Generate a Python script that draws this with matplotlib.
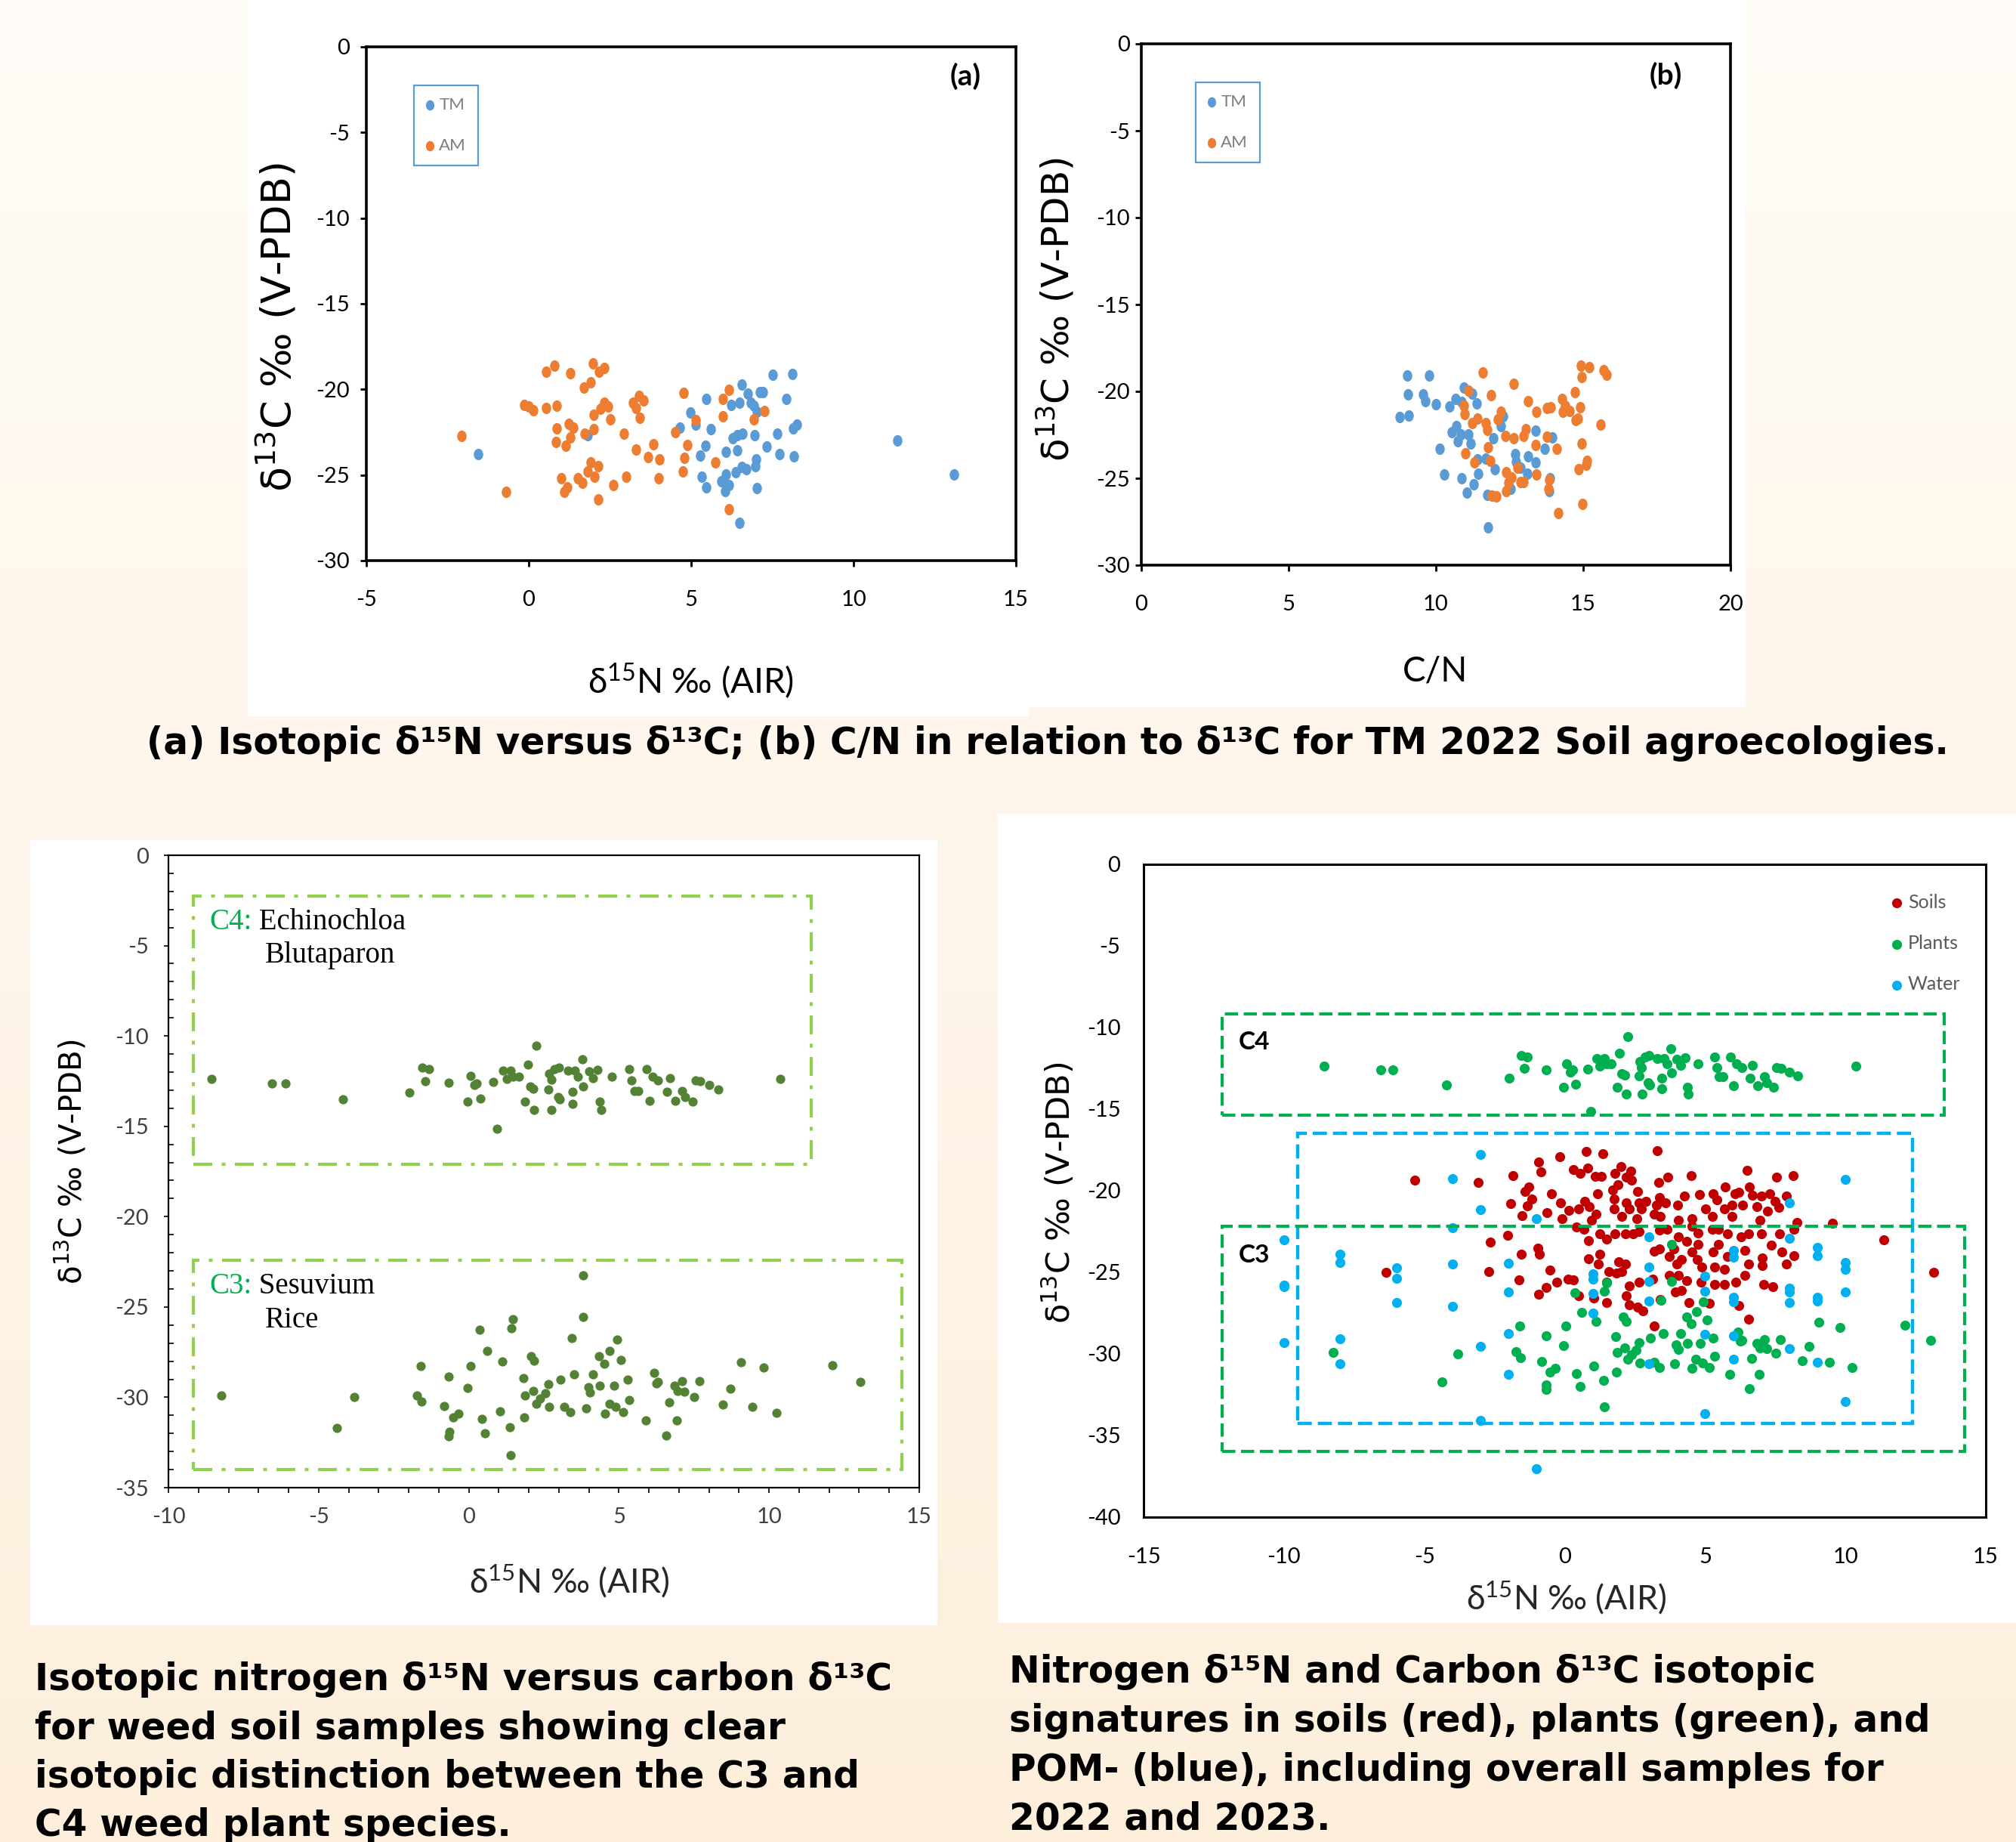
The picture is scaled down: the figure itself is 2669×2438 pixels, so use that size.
import numpy as np
import matplotlib
matplotlib.use("Agg")
import matplotlib.pyplot as plt
from matplotlib.patches import Rectangle
from matplotlib.path import Path
from matplotlib.ticker import MultipleLocator
from matplotlib.colors import LinearSegmentedColormap

# ---- (a) d15N vs d13C, TM / AM soils ----
tm_n = [-1.55, 1.82, 4.65, 4.98, 5.15, 5.27, 5.32, 5.44, 5.46, 5.47, 5.61, 5.94, 6.05, 6.07, 6.08, 6.17,
        6.24, 6.28, 6.38, 6.41, 6.42, 6.49, 6.49, 6.55, 6.55, 6.58, 6.70, 6.75, 6.84, 6.92, 6.95, 6.97,
        7.0, 7.03, 7.02, 7.11, 7.22, 7.33, 7.51, 7.64, 7.72, 7.92, 8.12, 8.15, 8.17, 8.26, 11.36, 13.10]
tm_c = [-23.8, -22.66, -22.25, -21.36, -22.06, -23.87, -25.09, -23.28, -25.7, -20.55, -22.33, -25.36,
        -25.95, -23.66, -24.95, -25.57, -20.9, -22.87, -24.82, -22.66, -23.55, -20.77, -27.79, -19.74,
        -24.55, -22.58, -24.68, -20.23, -20.77, -20.96, -22.66, -24.5, -24.1, -25.76, -21.3, -20.17,
        -20.17, -23.33, -19.15, -22.58, -23.79, -20.55, -19.09, -22.3, -23.9, -22.04, -22.98, -24.95]
am_n = [-2.06, -0.70, -0.13, 0.0, 0.15, 0.53, 0.54, 0.79, 0.85, 0.87, 0.84, 1.01, 1.09, 1.19, 1.15, 1.24,
        1.29, 1.37, 1.29, 1.51, 1.66, 1.69, 1.72, 1.82, 1.90, 1.91, 1.97, 2.0, 2.0, 2.02, 2.13, 2.13,
        2.17, 2.21, 2.32, 2.33, 2.44, 2.50, 2.60, 2.92, 3.0, 3.22, 3.31, 3.30, 3.40, 3.43, 3.54, 3.68,
        3.84, 4.01, 4.03, 4.51, 4.74, 4.77, 4.80, 4.88, 5.15, 5.75, 5.97, 5.97, 6.16, 6.16, 6.94, 7.25]
am_c = [-22.7, -25.98, -20.93, -21.0, -21.2, -21.1, -18.96, -18.6, -20.96, -22.3, -23.06, -25.17,
        -25.98, -25.7, -23.3, -22.0, -19.04, -22.25, -22.8, -25.17, -25.44, -19.9, -22.58, -24.8,
        -19.58, -24.28, -18.5, -21.47, -22.33, -25.1, -24.5, -26.44, -18.98, -21.15, -20.77, -18.77,
        -20.98, -21.77, -25.6, -22.58, -25.1, -20.8, -23.5, -21.1, -20.4, -21.66, -20.65, -23.95,
        -23.2, -25.2, -24.1, -22.5, -24.8, -20.2, -24.0, -23.25, -21.8, -24.28, -20.55, -21.58,
        -20.04, -26.98, -21.77, -21.25]

# ---- (b) C/N vs d13C ----
tm_cn = [8.78, 9.03, 9.04, 9.07, 9.56, 9.65, 9.76, 10.0, 10.14, 10.27, 10.46, 10.55, 10.66, 10.69,
         10.74, 10.85, 10.86, 10.88, 10.94, 11.05, 11.1, 11.19, 11.22, 11.27, 11.38, 11.4, 11.43,
         11.68, 11.74, 11.76, 11.96, 11.99, 12.21, 12.28, 12.54, 12.68, 12.73, 12.87, 13.11, 13.14,
         13.39, 13.39, 13.69, 13.85, 13.88, 13.96]
tm_cn_c = [-21.48, -19.08, -20.18, -21.37, -20.18, -20.58, -19.08, -20.76, -23.29, -24.8, -20.87,
           -22.36, -20.42, -22.0, -22.89, -22.49, -25.02, -20.63, -19.78, -25.84, -22.49, -23.02,
           -20.15, -25.34, -20.68, -23.9, -24.75, -23.88, -25.95, -27.81, -22.7, -24.49, -22.0,
           -21.43, -25.6, -23.6, -24.04, -24.4, -24.75, -23.74, -22.28, -24.09, -23.29, -25.74,
           -25.02, -22.65]
am_cn = [11.0, 10.97, 10.96, 11.1, 11.24, 11.32, 11.41, 11.59, 11.68, 11.74, 11.76, 11.84, 11.88,
         11.91, 12.06, 12.1, 12.2, 12.35, 12.38, 12.38, 12.46, 12.56, 12.64, 12.65, 12.78, 12.87,
         12.97, 12.97, 13.06, 13.12, 13.39, 13.41, 13.42, 13.78, 13.78, 13.81, 13.85, 13.91, 14.1,
         14.15, 14.27, 14.32, 14.38, 14.54, 14.71, 14.74, 14.83, 14.85, 14.9, 14.93, 14.95, 14.95,
         14.98, 15.09, 15.12, 15.2, 15.59, 15.68, 15.79]
am_cn_c = [-23.55, -21.29, -20.82, -19.96, -21.82, -24.09, -21.56, -18.93, -21.82, -22.22, -23.21,
           -24.0, -20.2, -26.0, -26.06, -21.61, -21.16, -22.55, -24.67, -25.74, -25.28, -24.94,
           -19.56, -22.68, -24.4, -25.2, -25.23, -22.57, -22.17, -20.58, -23.08, -21.16, -24.8,
           -22.6, -20.95, -25.63, -25.1, -20.9, -23.29, -27.0, -20.44, -21.16, -20.84, -21.11,
           -20.04, -21.64, -21.56, -24.49, -20.9, -18.5, -19.16, -23.02, -26.48, -24.22, -24.0,
           -18.63, -21.9, -18.77, -19.03]

# ---- (c) weed plants, C4 and C3 groups ----
c4_n = [-8.56, -6.55, -6.11, -4.2, -1.97, -1.55, -1.33, -1.44, -0.67, -0.03, 0.07, 0.19, 0.27, 0.39,
        0.81, 0.93, 1.14, 1.26, 1.4, 1.48, 1.66, 1.86, 1.96, 2.04, 2.14, 2.18, 2.26, 2.64, 2.68, 2.74,
        2.76, 2.86, 2.98, 3.0, 3.02, 3.3, 3.46, 3.46, 3.54, 3.64, 3.78, 3.8, 4.0, 4.14, 4.28, 4.36,
        4.4, 4.76, 5.33, 5.41, 5.51, 5.65, 5.91, 6.01, 6.11, 6.31, 6.61, 6.69, 6.87, 7.11, 7.21,
        7.45, 7.56, 7.7, 8.0, 8.3, 10.37]
c4_c = [-12.36, -12.61, -12.61, -13.51, -13.12, -11.73, -11.82, -12.52, -12.58, -13.65, -12.21,
        -12.72, -12.61, -13.46, -12.55, -15.13, -11.9, -12.38, -11.9, -12.24, -12.24, -13.65, -11.59,
        -12.81, -12.92, -14.08, -10.55, -12.95, -12.1, -12.44, -14.08, -11.82, -13.37, -11.73,
        -13.51, -11.9, -13.09, -13.74, -11.9, -12.24, -11.3, -12.78, -11.96, -12.33, -11.87, -13.65,
        -14.08, -12.24, -11.82, -12.47, -13.03, -13.03, -11.82, -13.57, -12.24, -12.47, -13.09,
        -12.33, -13.57, -13.03, -13.37, -13.65, -12.47, -12.52, -12.72, -12.95, -12.36]
c3_n = [-8.25, -4.38, -3.82, -1.73, -1.61, -1.57, -0.83, -0.67, -0.65, -0.67, -0.53, -0.33, -0.03,
        0.05, 0.37, 0.43, 0.55, 0.61, 1.04, 1.12, 1.38, 1.4, 1.42, 1.48, 1.82, 1.84, 1.88, 2.08, 2.14,
        2.18, 2.24, 2.38, 2.54, 2.64, 2.68, 3.06, 3.18, 3.38, 3.44, 3.5, 3.8, 3.82, 3.92, 3.98, 4.04,
        4.14, 4.34, 4.36, 4.52, 4.54, 4.7, 4.68, 4.84, 4.9, 4.94, 5.06, 5.14, 5.3, 5.33, 5.89, 6.17,
        6.25, 6.31, 6.57, 6.67, 6.85, 6.93, 6.95, 7.11, 7.19, 7.51, 7.68, 8.46, 8.7, 9.06, 9.44,
        9.82, 10.24, 12.11, 13.03]
c3_c = [-29.91, -31.69, -30.0, -29.88, -28.27, -30.25, -30.48, -28.87, -31.89, -32.17, -31.1, -30.9,
        -29.49, -28.27, -26.27, -31.19, -31.97, -27.45, -30.76, -28.02, -31.64, -33.22, -26.18,
        -25.67, -28.92, -31.13, -29.91, -27.73, -29.63, -27.99, -30.34, -30.05, -29.77, -29.29,
        -30.54, -29.01, -30.51, -30.82, -26.72, -28.73, -23.27, -25.56, -30.62, -29.43, -29.72,
        -28.73, -27.73, -29.35, -28.16, -30.9, -27.42, -30.34, -29.35, -30.54, -26.8, -27.93,
        -30.82, -29.01, -30.14, -31.27, -28.64, -29.21, -29.15, -32.12, -30.28, -29.35, -31.27,
        -29.63, -29.12, -29.69, -29.97, -29.12, -30.4, -29.54, -28.07, -30.51, -28.36, -30.85,
        -28.24, -29.15]

# ---- (d) soils, plants (same weeds) and water POM ----
soil_n_far = [-5.33, -6.37, 9.55, 11.38, 13.14]
soil_c_far = [-19.36, -25.02, -21.98, -22.99, -25.02]
soil_n_core = [0.77, 1.35, 3.3, -0.17,
               -0.94, -0.85, -1.85, -3.07, 0.3, 0.54, 0.83, 1.08, 1.3, 1.8, 2.0, 2.36, 2.38, 3.35,
               3.66, 4.51, 6.49, 7.56, 8.15,
               -1.28, -1.41, -1.18, -1.92, -1.33, -0.47, -0.15, 0.72, 1.17, 1.71, 1.89, 1.75, 2.2,
               2.59, 2.2, 2.65, 2.9, 3.39, 3.28, 3.59, 4.02, 4.26, 4.8, 5.29, 5.73, 6.06, 6.19, 6.58,
               6.69, 7.0, 7.31, 7.49, 7.9, 5.43, 5.97,
               -1.52, -0.62, -0.09, 0.14, 0.5, 0.87, 1.12, 0.95, 1.75, 2.02, 2.29, 2.56, 2.74, 3.19,
               3.41, 4.04, 4.53, 5.03, 5.25, 5.7, 5.97, 6.33, 6.86, 7.22, 7.63, 6.95, 8.28,
               0.41, 0.68, 0.86, 1.26, 1.48, 1.8, 2.16, 2.43, 2.65, 3.37, 3.64, 4.04, 4.53, 4.76,
               5.25, 5.48, 5.79, 6.28, 6.55, 7.0, 7.65, 8.16, -2.66, -2.03, 4.76, 5.48, 7.36, 4.35,
               3.9,
               -1.55, -0.96, -0.89, -0.53, -2.71, 0.86, 1.26, 1.21, 1.93, 2.16, 2.02, 1.57, 3.19,
               3.37, 3.72, 3.99, 4.17, 4.53, 4.71, 4.89, 5.29, 5.34, 5.79, 5.7, 6.42, 6.55, 7.04,
               7.03, 7.74, 8.17, 7.9,
               -1.64, -0.94, -0.67, -0.29, 0.12, 0.3, 1.48, 1.84, 2.29, 2.65, 3.14, 3.72, 4.04, 4.35,
               4.17, 3.95, 4.85, 5.34, 5.7, 6.1, 6.42, 7.09, 7.4,
               2.2, 2.29, 2.6, 2.78, 1.48, 1.03, 0.5, 3.41, 4.42, 5.16, 6.19, 6.55, 3.19]
soil_c_core = [-17.61, -17.75, -17.53, -17.92,
               -18.25, -18.83, -19.06, -19.49, -18.69, -18.95, -18.59, -19.1, -19.13, -18.95,
               -18.52, -18.79, -19.33, -19.49, -19.18, -19.06, -18.76, -19.18, -19.06,
               -19.77, -20.03, -20.49, -20.8, -20.92, -20.18, -20.72, -20.65, -20.18, -19.95,
               -19.64, -20.49, -19.18, -20.03, -20.72, -20.72, -20.65, -20.42, -20.88, -20.72,
               -20.88, -20.34, -20.21, -20.18, -19.77, -20.18, -20.08, -19.75, -20.26, -20.34,
               -20.18, -20.65, -20.34, -20.57, -20.88,
               -21.54, -21.36, -21.73, -21.19, -21.11, -20.96, -21.42, -21.8, -21.11, -21.57,
               -21.11, -21.73, -21.11, -21.42, -21.57, -21.8, -21.73, -21.11, -21.57, -21.11,
               -21.57, -20.88, -20.96, -21.26, -21.03, -21.8, -21.96,
               -22.24, -22.34, -23.04, -22.65, -22.96, -22.65, -22.65, -22.65, -22.5, -22.42,
               -22.34, -22.81, -22.19, -22.58, -22.34, -22.34, -22.65, -22.81, -22.65, -22.65,
               -22.62, -22.34, -23.16, -22.73, -23.27, -23.27, -23.35, -23.12, -23.58,
               -23.89, -23.5, -23.89, -24.86, -24.97, -24.17, -23.89, -24.5, -24.35, -24.5, -24.97,
               -24.97, -23.69, -23.58, -24.01, -24.5, -24.2, -23.73, -24.2, -24.66, -23.73, -24.66,
               -24.04, -24.81, -23.66, -24.5, -24.12, -24.58, -23.73, -23.97, -24.47,
               -25.46, -26.36, -25.92, -25.59, -25.4, -25.46, -25.59, -25.05, -25.82, -25.59,
               -25.43, -25.2, -25.2, -25.51, -26.12, -26.2, -25.59, -25.74, -25.74, -25.59, -25.2,
               -25.74, -25.89,
               -26.43, -26.97, -27.13, -27.36, -26.85, -26.59, -26.43, -26.67, -26.85, -26.9,
               -27.05, -27.87, -28.29]
water_n = [-10, -10, -10, -10, -8, -8, -8, -8, -6, -6, -6, -4, -4, -4, -4, -3, -3, -3, -3, -2, -2, -2,
           -2, -1, -1, 1, 1, 1, 1, 3, 3, 3, 3, 3, 5, 5, 5, 5, 6, 6, 6, 6, 6, 6, 8, 8, 8, 8, 8, 8, 9, 9,
           9, 9, 9, 10, 10, 10, 10, 10]
water_c = [-22.99, -25.79, -25.9, -29.3, -23.9, -24.4, -29.06, -30.58, -24.72, -25.38, -26.83,
           -19.24, -22.25, -24.49, -27.07, -17.79, -21.17, -29.54, -34.06, -24.43, -26.22, -28.75,
           -31.24, -21.69, -37.02, -25.09, -25.42, -26.28, -27.5, -22.84, -24.67, -25.57, -26.77,
           -30.62, -25.24, -26.15, -28.8, -33.65, -23.68, -24.08, -26.55, -26.79, -28.9, -30.34,
           -20.74, -22.93, -25.97, -26.22, -26.83, -29.66, -23.48, -23.96, -26.55, -26.77, -30.49,
           -19.29, -24.41, -24.82, -26.22, -32.92]

# group boxes (x0, x1, y0, y1) in data units
weed_c4_box = (-9.16, 11.4, -17.1, -2.26)
weed_c3_box = (-9.16, 14.42, -34.0, -22.42)
all_c4_box = (-12.2, 13.52, -15.36, -9.16)
all_water_box = (-9.51, 12.38, -34.25, -16.5)
all_c3_box = (-12.2, 14.26, -35.97, -22.18)

W, H = 2669, 2438
plt.rcParams['font.family'] = ['Lato', 'DejaVu Sans']
plt.rcParams['axes.unicode_minus'] = False
CAP = 'DejaVu Sans'


def frac(x0, y0, x1, y1):
    return [x0 / W, 1 - y1 / H, (x1 - x0) / W, (y1 - y0) / H]


def box(ax, b, color, ls, lw):
    r = Rectangle((b[0], b[2]), b[1] - b[0], b[3] - b[2], fill=False, edgecolor=color,
                  linestyle=ls, linewidth=lw, zorder=4)
    ax.add_patch(r)


fig = plt.figure(figsize=(W / 100, H / 100), dpi=100)

# cream background with a soft vertical gradient
bg = fig.add_axes([0, 0, 1, 1], zorder=-10)
bg.imshow(np.linspace(0, 1, 256)[:, None], aspect='auto', extent=[0, 1, 0, 1],
          cmap=LinearSegmentedColormap.from_list('cream', ['#FFFCF7', '#FDEFDC']))
bg.axis('off')
for x0, y0, x1, y1 in [(328, 0, 1362, 948), (1362, 0, 2311, 936), (40, 1112, 1241, 2151),
                       (1321, 1077, 2669, 2148)]:
    fig.add_artist(Rectangle((x0 / W, 1 - y1 / H), (x1 - x0) / W, (y1 - y0) / H,
                             transform=fig.transFigure, facecolor='white', edgecolor='none',
                             zorder=-5))

circ = Path.unit_circle()
oval = Path(circ.vertices * [0.82, 1.0], circ.codes)
BLUE, ORANGE = '#5B9BD5', '#ED7D31'


def excel_panel(ax, xlim, xstep, ypad, xpad):
    ax.set_xlim(*xlim)
    ax.set_ylim(-30, 0)
    ax.set_xticks(np.arange(xlim[0], xlim[1] + 1, xstep))
    ax.set_yticks(np.arange(-30, 1, 5))
    for s in ax.spines.values():
        s.set_linewidth(2.6)
    ax.tick_params(direction='out', length=6, width=2, labelsize=21, colors='black')
    ax.tick_params(axis='y', pad=ypad)
    ax.tick_params(axis='x', pad=xpad)


# (a)
ax_a = fig.add_axes(frac(485, 62, 1345, 742))
ax_a.scatter(tm_n, tm_c, s=120, marker=oval, color=BLUE, linewidths=0, label='TM', zorder=3)
ax_a.scatter(am_n, am_c, s=120, marker=oval, color=ORANGE, linewidths=0, label='AM', zorder=3)
excel_panel(ax_a, (-5, 15), 5, 10, 22)
ax_a.text(0.922, 0.943, '(a)', transform=ax_a.transAxes, ha='center', va='center',
          fontsize=28, weight='bold')

# (b)
ax_b = fig.add_axes(frac(1511, 58, 2291, 748))
ax_b.scatter(tm_cn, tm_cn_c, s=120, marker=oval, color=BLUE, linewidths=0, label='TM', zorder=3)
ax_b.scatter(am_cn, am_cn_c, s=120, marker=oval, color=ORANGE, linewidths=0, label='AM', zorder=3)
excel_panel(ax_b, (0, 20), 5, 5, 22)
ax_b.text(0.89, 0.94, '(b)', transform=ax_b.transAxes, ha='center', va='center',
          fontsize=28, weight='bold')

for ax, anchor in [(ax_a, (0.0733, 0.925)), (ax_b, (0.0923, 0.926))]:
    leg = ax.legend(loc='upper left', bbox_to_anchor=anchor, borderaxespad=0, fontsize=16,
                    borderpad=0.7, labelspacing=1.55, handlelength=0.5, handletextpad=0.3,
                    fancybox=False, edgecolor=BLUE, markerscale=0.9, labelcolor='#7F7F7F',
                    framealpha=1)
    leg.get_frame().set_linewidth(1.6)

ylab = r'$\mathregular{\delta^{13}}$C ‰ (V-PDB)'
nlab = r'δ$\mathregular{^{15}}$N ‰ (AIR)'
fig.text(367 / W, 1 - 433 / H, ylab, rotation=90, ha='center', va='center', fontsize=39,
         family='DejaVu Sans')
fig.text(1398 / W, 1 - 410 / H, ylab, rotation=90, ha='center', va='center', fontsize=36,
         family='DejaVu Sans')
fig.text(915 / W, 1 - 902 / H, nlab, ha='center', va='center', fontsize=33)
fig.text(1900 / W, 1 - 888 / H, 'C/N', ha='center', va='center', fontsize=33)

fig.text(1387 / W, 1 - 984 / H,
         '(a) Isotopic δ¹⁵N versus δ¹³C; (b) C/N in relation to δ¹³C for TM 2022 Soil agroecologies.',
         ha='center', va='center', fontsize=35, weight='bold', family=CAP)

# (c) weeds
ax_c = fig.add_axes(frac(223, 1132, 1217, 1969))
WEED = '#548235'
ax_c.scatter(c4_n, c4_c, s=78, color=WEED, linewidths=0, zorder=3)
ax_c.scatter(c3_n, c3_c, s=78, color=WEED, linewidths=0, zorder=3)
ax_c.set_xlim(-10, 15)
ax_c.set_ylim(-35, 0)
ax_c.xaxis.set_major_locator(MultipleLocator(5))
ax_c.yaxis.set_major_locator(MultipleLocator(5))
ax_c.xaxis.set_minor_locator(MultipleLocator(1))
ax_c.yaxis.set_minor_locator(MultipleLocator(1))
for s in ax_c.spines.values():
    s.set_linewidth(1.6)
ax_c.tick_params(axis='both', which='both', labelsize=21, labelcolor='#404040', width=1.2)
ax_c.tick_params(axis='x', which='both', direction='out', length=5, pad=14)
ax_c.tick_params(axis='y', which='major', direction='out', length=4, pad=15)
ax_c.tick_params(axis='y', which='minor', direction='in', length=5)
dashdot = (0, (6, 3, 1.2, 3))
box(ax_c, weed_c4_box, '#92D050', dashdot, 3)
box(ax_c, weed_c3_box, '#92D050', dashdot, 3)
SERIF = ['Liberation Serif', 'DejaVu Serif']
for y1, y2, lab, l1, l2 in [(-3.68, -5.52, 'C4:', ' Echinochloa', 'Blutaparon'),
                            (-23.84, -25.72, 'C3:', ' Sesuvium', 'Rice')]:
    t = ax_c.text(-8.64, y1, lab, color='#00B050', fontsize=28, family=SERIF, va='center')
    ax_c.annotate(l1, xy=(1, 0), xycoords=t, va='bottom', ha='left', fontsize=28, family=SERIF)
    ax_c.text(-6.78, y2, l2, fontsize=28, family=SERIF, va='center')
fig.text(94 / W, 1 - 1538 / H, ylab, rotation=90, ha='center', va='center', fontsize=29,
         family='DejaVu Sans')
fig.text(753 / W, 1 - 2093 / H, nlab, ha='center', va='center', fontsize=32, color='#262626')

# (d) all samples
ax_d = fig.add_axes(frac(1514, 1144, 2629, 2008))
ax_d.scatter(soil_n_far + soil_n_core, soil_c_far + soil_c_core, s=90, color='#C00000',
             linewidths=0, zorder=2, label='Soils')
ax_d.scatter(c4_n + c3_n, c4_c + c3_c, s=90, color='#00B050', linewidths=0, zorder=2,
             label='Plants')
ax_d.scatter(water_n, water_c, s=90, color='#00B0F0', linewidths=0, zorder=2, label='Water')
ax_d.set_xlim(-15, 15)
ax_d.set_ylim(-40, 0)
ax_d.set_xticks(np.arange(-15, 16, 5))
ax_d.set_yticks(np.arange(-40, 1, 5))
for s in ax_d.spines.values():
    s.set_linewidth(2.2)
ax_d.tick_params(length=0, labelsize=21, labelcolor='black')
ax_d.tick_params(axis='y', pad=22)
ax_d.tick_params(axis='x', pad=29)
dashed = (0, (4.2, 1.8))
box(ax_d, all_c4_box, '#00B050', dashed, 3)
box(ax_d, all_water_box, '#00B0F0', dashed, 3.2)
box(ax_d, all_c3_box, '#00B050', dashed, 3)
ax_d.text(-11.62, -10.88, 'C4', fontsize=24, weight='bold', va='center')
ax_d.text(-11.62, -23.96, 'C3', fontsize=24, weight='bold', va='center')
ax_d.legend(loc='upper right', bbox_to_anchor=(0.97, 0.955), borderaxespad=0, borderpad=0,
            frameon=False, fontsize=18, labelspacing=1.25, handlelength=0.6, handletextpad=0.3,
            labelcolor='#595959')
fig.text(1402 / W, 1 - 1579 / H, ylab, rotation=90, ha='center', va='center', fontsize=31,
         family='DejaVu Sans')
fig.text(2073 / W, 1 - 2115 / H, nlab, ha='center', va='center', fontsize=32, color='#262626')

# bottom captions
left_cap = ['Isotopic nitrogen δ¹⁵N versus carbon δ¹³C', 'for weed soil samples showing clear',
            'isotopic distinction between the C3 and', 'C4 weed plant species.']
right_cap = ['Nitrogen δ¹⁵N and Carbon δ¹³C isotopic',
             'signatures in soils (red), plants (green), and',
             'POM- (blue), including overall samples for', '2022 and 2023.']
for i, line in enumerate(left_cap):
    fig.text(46 / W, 1 - (2223 + 64.5 * i) / H, line, ha='left', va='center', fontsize=35,
             weight='bold', family=CAP)
for i, line in enumerate(right_cap):
    fig.text(1336 / W, 1 - (2213 + 65 * i) / H, line, ha='left', va='center', fontsize=35,
             weight='bold', family=CAP)

fig.savefig('out.png', dpi=100)
